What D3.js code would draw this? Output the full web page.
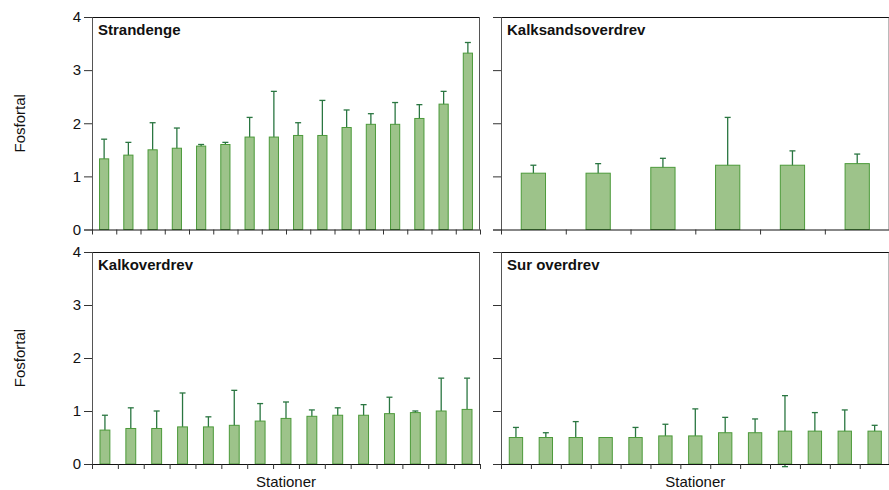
<!DOCTYPE html>
<html>
<head>
<meta charset="utf-8">
<script src="https://cdn.jsdelivr.net/npm/d3@7"></script>
<style>
  body { margin: 0; background: #fff; }
  svg { display: block; }
  text { font-family: "Liberation Sans", Arial, Helvetica, sans-serif; }
</style>
</head>
<body>
<svg id="chart" width="889" height="490"></svg>
<script>
// Mean phosphorus number per station, with its standard deviation
const strandengeMean = [1.33, 1.40, 1.50, 1.53, 1.57, 1.60, 1.74, 1.74, 1.77, 1.77, 1.92, 1.98, 1.98, 2.09, 2.36, 3.32];
const strandengeSd   = [0.37, 0.24, 0.51, 0.38, 0.03, 0.04, 0.37, 0.86, 0.24, 0.66, 0.33, 0.20, 0.41, 0.26, 0.24, 0.20];

const kalksandMean = [1.06, 1.06, 1.17, 1.21, 1.21, 1.24];
const kalksandSd   = [0.15, 0.18, 0.17, 0.90, 0.27, 0.18];

const kalkMean = [0.64, 0.67, 0.67, 0.70, 0.70, 0.73, 0.81, 0.86, 0.90, 0.92, 0.92, 0.95, 0.97, 1.00, 1.03];
const kalkSd   = [0.28, 0.39, 0.33, 0.64, 0.19, 0.66, 0.33, 0.31, 0.12, 0.14, 0.20, 0.31, 0.03, 0.62, 0.59];

const surMean = [0.50, 0.50, 0.50, 0.50, 0.50, 0.53, 0.53, 0.59, 0.59, 0.62, 0.62, 0.62, 0.62];
const surSd   = [0.19, 0.09, 0.30, 0.00, 0.19, 0.22, 0.51, 0.29, 0.26, 0.67, 0.35, 0.40, 0.11];

const panelTitles = ["Strandenge", "Kalksandsoverdrev", "Kalkoverdrev", "Sur overdrev"];
const yTicks = [0, 1, 2, 3, 4];
const yLabel = "Fosfortal";
const xLabel = "Stationer";

const panels = [
  { title: panelTitles[0], mean: strandengeMean, sd: strandengeSd, col: 0, row: 0, barFrac: 0.42 },
  { title: panelTitles[1], mean: kalksandMean,   sd: kalksandSd,   col: 1, row: 0, barFrac: 0.39 },
  { title: panelTitles[2], mean: kalkMean,       sd: kalkSd,       col: 0, row: 1, barFrac: 0.42 },
  { title: panelTitles[3], mean: surMean,        sd: surSd,        col: 1, row: 1, barFrac: 0.48 }
];

const colX = [[92, 480], [501, 889.6]];
const rowY = [[17, 229.5], [252, 464]];

const svg = d3.select("#chart");

const fill = "#9dc38a";
const barStroke = "#4c9a3a";
const errColor = "#2a7641";

panels.forEach(p => {
  const [x0, x1] = colX[p.col];
  const [y0, y1] = rowY[p.row];
  const n = p.mean.length;
  const g = svg.append("g");

  const y = d3.scaleLinear().domain([0, 4]).range([y1, y0]);
  const idx = d3.scaleLinear().domain([0, n]).range([x0, x1]);
  const x = d3.scaleBand()
    .domain(d3.range(n))
    .range([x0, x1])
    .paddingInner(1 - p.barFrac)
    .paddingOuter((1 - p.barFrac) / 2);

  // frame: top and right edges
  g.append("line").attr("x1", x0).attr("x2", x1).attr("y1", y0 + 0.5).attr("y2", y0 + 0.5)
    .attr("stroke", "#111").attr("stroke-width", 1);
  g.append("line").attr("x1", x1 - 0.5).attr("x2", x1 - 0.5).attr("y1", y0).attr("y2", y1)
    .attr("stroke", "#555").attr("stroke-width", 1);

  const data = p.mean.map((m, i) => ({ i, m, s: p.sd[i] }));

  // error bars (symmetric, behind the bars)
  const eb = g.append("g").attr("stroke", errColor).attr("stroke-width", 1.3);
  data.filter(d => d.s > 0).forEach(d => {
    const cx = x(d.i) + x.bandwidth() / 2;
    eb.append("line").attr("x1", cx).attr("x2", cx).attr("y1", y(d.m + d.s)).attr("y2", y(d.m - d.s));
    eb.append("line").attr("x1", cx - 3).attr("x2", cx + 3).attr("y1", y(d.m + d.s)).attr("y2", y(d.m + d.s));
    eb.append("line").attr("x1", cx - 3).attr("x2", cx + 3).attr("y1", y(d.m - d.s)).attr("y2", y(d.m - d.s));
  });

  // bars
  g.append("g").selectAll("rect").data(data).join("rect")
    .attr("x", d => x(d.i) + 0.5)
    .attr("y", d => y(d.m))
    .attr("width", x.bandwidth() - 1)
    .attr("height", d => y(0) - y(d.m))
    .attr("fill", fill)
    .attr("stroke", barStroke)
    .attr("stroke-width", 1);

  // y axis
  const yAxis = g.append("g").attr("transform", `translate(${x0},0)`)
    .call(d3.axisLeft(y).tickValues(yTicks).tickSize(8).tickPadding(3)
      .tickFormat(p.col === 0 ? d3.format("d") : () => ""));
  yAxis.select(".domain").attr("stroke", "#555");
  yAxis.selectAll(".tick line").attr("stroke", "#333");
  yAxis.selectAll("text").attr("font-size", 15).attr("fill", "#111");

  // x axis: station ticks at slot boundaries
  const xAxis = g.append("g").attr("transform", `translate(0,${y1})`)
    .call(d3.axisBottom(idx).tickValues(d3.range(n + 1)).tickSize(5).tickFormat(() => ""));
  xAxis.select(".domain").attr("stroke", "#111").attr("d", `M${x0},0.5H${x1}`);
  xAxis.selectAll(".tick line").attr("stroke", "#333");

  // panel title
  g.append("text").attr("x", x0 + 6).attr("y", y0 + 18)
    .attr("font-size", 15).attr("font-weight", "bold").attr("fill", "#111")
    .text(p.title);

  if (p.row === 1) {
    g.append("text").attr("x", (x0 + x1) / 2).attr("y", 487)
      .attr("text-anchor", "middle").attr("font-size", 15).attr("fill", "#111")
      .text(xLabel);
  }
  if (p.col === 0) {
    g.append("text")
      .attr("transform", `translate(25,${(y0 + y1) / 2}) rotate(-90)`)
      .attr("text-anchor", "middle").attr("font-size", 15).attr("fill", "#111")
      .text(yLabel);
  }
});
</script>
</body>
</html>
